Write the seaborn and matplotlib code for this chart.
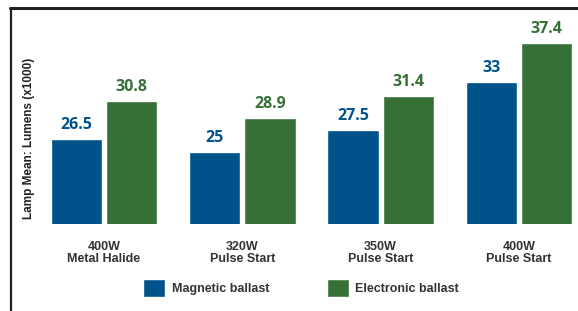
import seaborn as sns
import matplotlib.pyplot as plt
import pandas as pd
from matplotlib.lines import Line2D

lamps = ["400W\nMetal Halide", "320W\nPulse Start", "350W\nPulse Start", "400W\nPulse Start"]
magnetic = [26.5, 25, 27.5, 33]
electronic = [30.8, 28.9, 31.4, 37.4]
ballasts = ["Magnetic ballast", "Electronic ballast"]
colors = ["#00538a", "#377037"]

df = pd.DataFrame({
    "lamp": lamps * 2,
    "ballast": [ballasts[0]] * 4 + [ballasts[1]] * 4,
    "lumens": magnetic + electronic,
})

sns.set_theme(style="white")
plt.rcParams["font.family"] = ["Liberation Sans", "DejaVu Sans"]

fig = plt.figure(figsize=(5.78, 3.11), dpi=100)
ax = fig.add_axes([12 / 578, 87 / 311, 566 / 578, 214 / 311])

sns.barplot(data=df, x="lamp", y="lumens", hue="ballast", palette=colors,
            width=0.8, gap=0.07, saturation=1, ax=ax)

for cont, c in zip(ax.containers, colors):
    ax.bar_label(cont, fmt="%g", padding=4, color=c, fontsize=11.5,
                 fontweight="bold", family=["Open Sans", "DejaVu Sans"])

ax.set_xlim(-0.665, 3.427)
ax.set_ylim(16.8, 41.15)
ax.set_yticks([])
ax.set_xlabel("")
ax.set_ylabel("Lamp Mean: Lumens (x1000)", fontsize=8.5, fontweight="bold", color="#222222")
ax.yaxis.set_label_coords(0.041, 0.40)
ax.tick_params(axis="x", length=0, pad=12, labelsize=9, labelcolor="#333333")
for lab in ax.get_xticklabels():
    lab.set_fontweight("bold")
    lab.set_linespacing(1.0)
sns.despine(ax=ax, left=True, bottom=True)

sns.move_legend(ax, loc="center", bbox_to_anchor=(301 / 578, 23 / 311),
                bbox_transform=fig.transFigure, ncol=2, frameon=False, title=None,
                fontsize=9, handlelength=1.75, handleheight=1.75,
                handletextpad=0.55, columnspacing=4.6)
for t in ax.get_legend().get_texts():
    t.set_fontweight("bold")
    t.set_color("#333333")

# frame lines
fig.add_artist(Line2D([10 / 578, 1], [1 - 7.5 / 311, 1 - 7.5 / 311],
                      color="#231f20", lw=2.2, transform=fig.transFigure))
fig.add_artist(Line2D([11 / 578, 11 / 578], [0, 1 - 7.5 / 311],
                      color="#231f20", lw=1.6, transform=fig.transFigure))

fig.savefig("out.png", dpi=100)
